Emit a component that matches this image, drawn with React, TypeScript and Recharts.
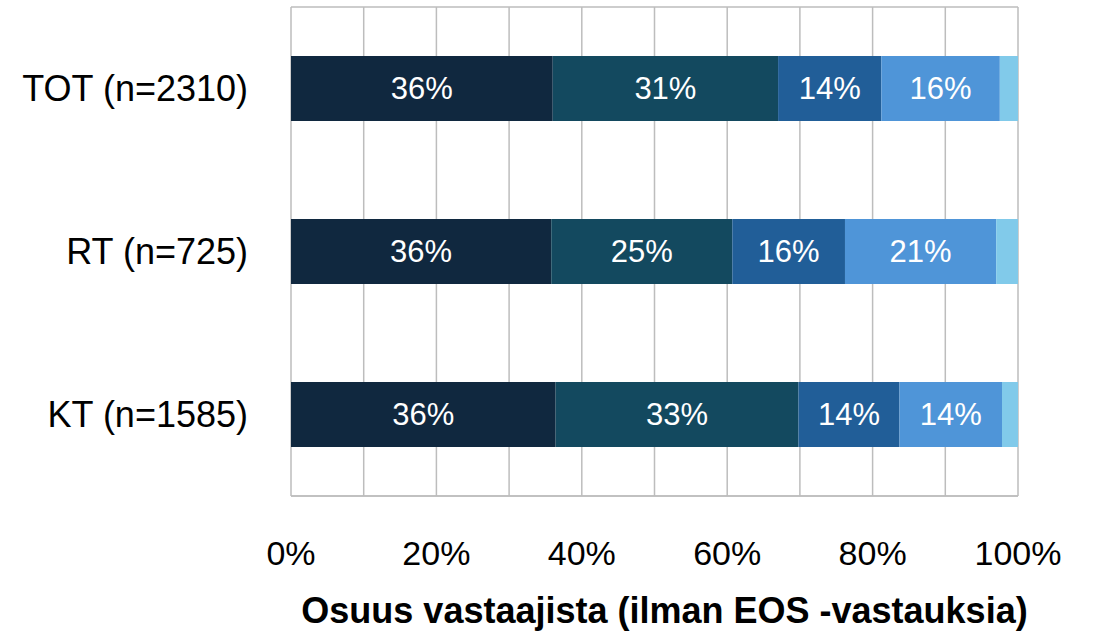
import React from 'react';
import { BarChart, Bar, XAxis, YAxis, CartesianGrid, LabelList } from 'recharts';

const categories = ['TOT (n=2310)', 'RT (n=725)', 'KT (n=1585)'];
const s1 = [36.0, 35.8, 36.4];
const s2 = [31.0, 24.9, 33.4];
const s3 = [14.2, 15.5, 13.9];
const s4 = [16.3, 20.8, 14.1];
const s5 = [2.5, 3.0, 2.2];
const xTicks = [0, 10, 20, 30, 40, 50, 60, 70, 80, 90, 100];
const xTitle = 'Osuus vastaajista (ilman EOS -vastauksia)';

const seriesKeys = ['s1', 's2', 's3', 's4', 's5'];
const colors = ['#10283F', '#13495F', '#215E98', '#4F95D8', '#81CAEA'];
const showLabel = [true, true, true, true, false];

const data = categories.map((c, i) => ({
  name: c,
  s1: s1[i],
  s2: s2[i],
  s3: s3[i],
  s4: s4[i],
  s5: s5[i],
}));

const FONT = '"Liberation Sans", Arial, sans-serif';

const XTick = (props: any) => {
  const { x, y, payload } = props;
  if (payload.value % 20 !== 0) return null;
  return (
    <text x={x} y={y} dy={24} textAnchor="middle" fontSize={34} fill="#000" fontFamily={FONT}>
      {`${payload.value}%`}
    </text>
  );
};

export default function App() {
  return (
    <div style={{ position: 'absolute', left: 0, top: 0, background: '#fff' }}>
      <BarChart
        width={1096}
        height={633}
        data={data}
        layout="vertical"
        margin={{ top: 7, right: 78, bottom: 0, left: 0 }}
        barCategoryGap="30%"
      >
        <CartesianGrid
          stroke="#BDBDBD"
          strokeWidth={1.5}
          vertical={true}
          horizontal={true}
          horizontalCoordinatesGenerator={({ offset }: any) => [offset.top, offset.top + offset.height]}
        />
        <XAxis
          type="number"
          domain={[0, 100]}
          ticks={xTicks}
          interval={0}
          tick={<XTick />}
          tickLine={false}
          axisLine={{ stroke: '#BDBDBD', strokeWidth: 1.5 }}
          tickMargin={39}
          height={137}
          label={{
            value: xTitle,
            position: 'insideBottom',
            offset: 10,
            dx: 10,
            fontSize: 36,
            fontWeight: 'bold',
            fill: '#000',
            fontFamily: FONT,
          }}
        />
        <YAxis
          type="category"
          dataKey="name"
          width={291}
          axisLine={false}
          tickLine={false}
          tickMargin={37}
          tick={{ fontSize: 36, fill: '#000', fontFamily: FONT }}
        />
        {seriesKeys.map((k, i) => (
          <Bar key={k} dataKey={k} stackId="a" fill={colors[i]} isAnimationActive={false}>
            {showLabel[i] && (
              <LabelList
                dataKey={k}
                position="center"
                fill="#fff"
                fontSize={31}
                fontFamily={FONT}
                formatter={(v: any) => `${Math.round(Number(v))}%`}
              />
            )}
          </Bar>
        ))}
      </BarChart>
    </div>
  );
}
